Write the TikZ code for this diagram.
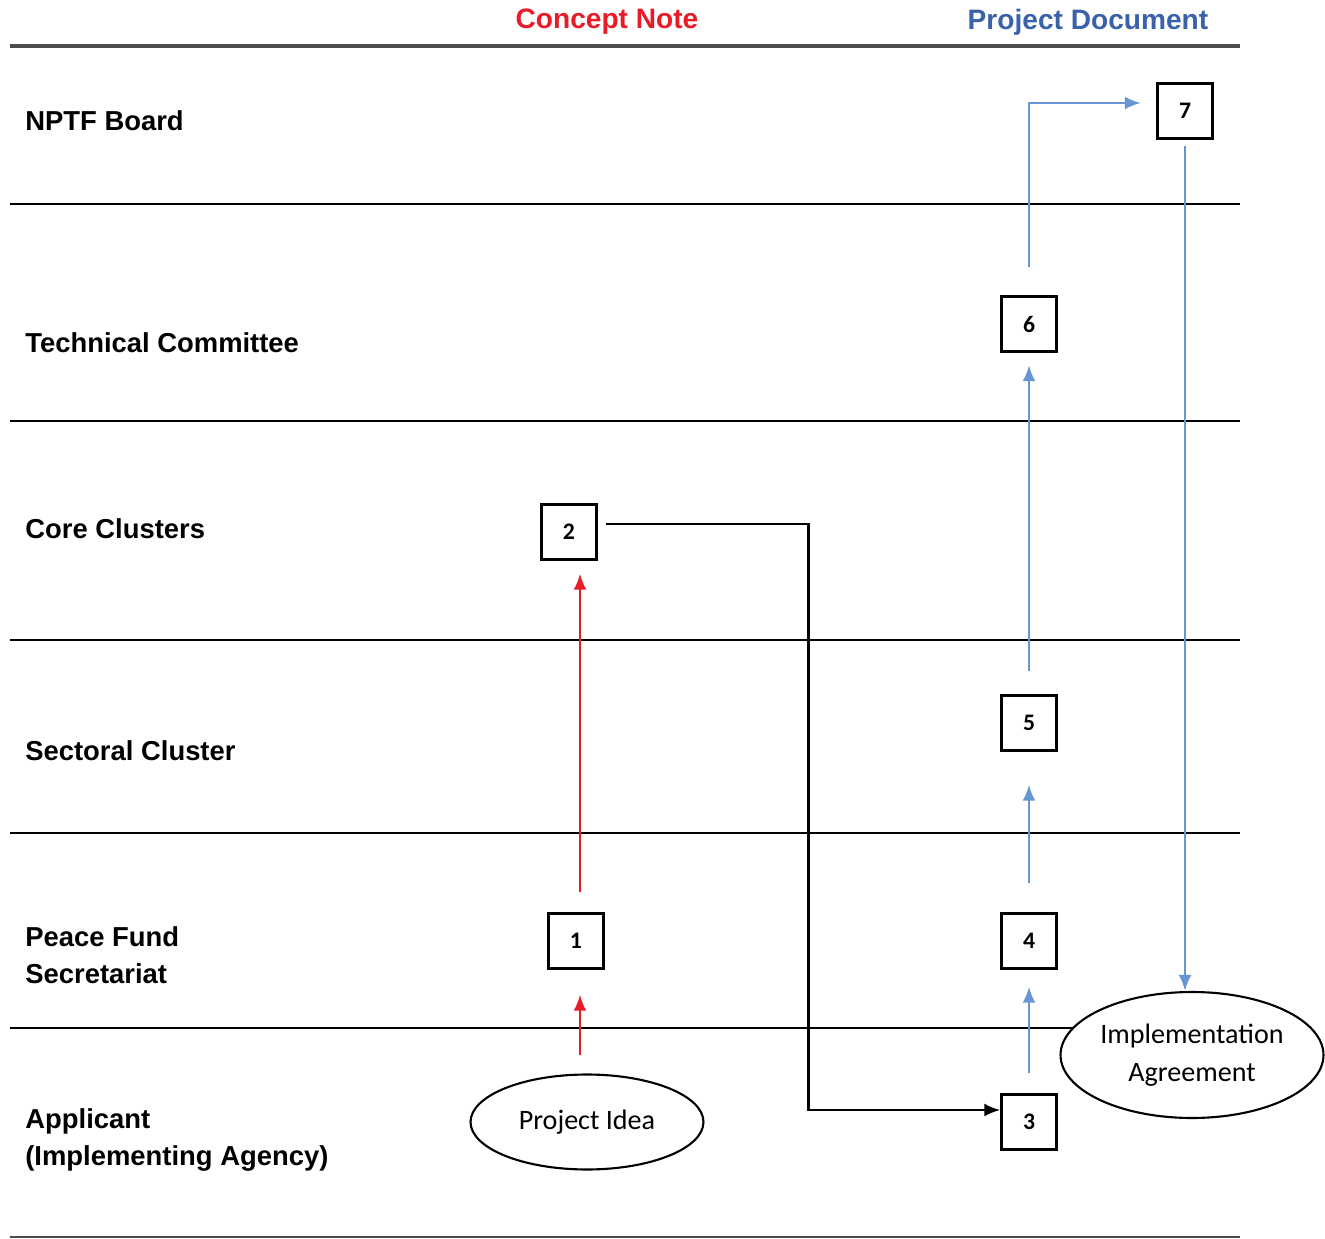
\documentclass[tikz,border=0pt]{standalone}
\usepackage{fontspec}
\setmainfont{Liberation Sans}
\newfontfamily\calfont{Carlito}
\usetikzlibrary{arrows.meta,shapes.geometric}
\definecolor{cnred}{RGB}{232,28,40}
\definecolor{pdblue}{RGB}{58,98,170}
\definecolor{flowblue}{RGB}{104,150,212}
\tikzset{
  lane/.style={line width=1.4pt},
  lanelabel/.style={anchor=west,align=left,inner sep=0pt,
    font=\fontsize{15.6}{21}\selectfont\bfseries},
  header/.style={inner sep=0pt,font=\fontsize{16}{19}\selectfont\bfseries},
  stepbox/.style={draw,line width=1.4pt,minimum size=1.1cm,inner sep=0pt,
    font=\calfont\fontsize{13.5}{15}\selectfont\bfseries},
  oval/.style={draw,ellipse,fill=white,line width=1.2pt,inner sep=0pt,align=center,
    font=\calfont\fontsize{16}{21.5}\selectfont},
  redflow/.style={cnred,line width=1.4pt,-{Latex[length=3.2mm,width=2.6mm]}},
  blueflow/.style={flowblue,line width=1.4pt,-{Latex[length=3.2mm,width=2.6mm]}},
  blackflow/.style={black,line width=1.4pt,-{Latex[length=3.2mm,width=2.6mm]}}
}
\begin{document}
\begin{tikzpicture}[x=0.02cm,y=-0.02cm]
  \useasboundingbox (0,0) rectangle (1325,1239);

  % HEADERS
  \node[header,text=cnred] (cnote) at (607,22) {Concept Note};
  \node[header,text=pdblue] (pdoc) at (1088,22) {Project Document};
  \draw[line width=2.2pt,black!70] (10,46) -- (1240,46);

  % LANES
  \foreach \y in {204,421,640,833,1028} {
    \draw[lane] (10,\y) -- (1240,\y);
  }
  \draw[lane,black!70] (10,1237) -- (1240,1237);

  \node[lanelabel] (board) at (25,121) {NPTF Board};
  \node[lanelabel] (techcom) at (25,343) {Technical Committee};
  \node[lanelabel] (core) at (25,529) {Core Clusters};
  \node[lanelabel] (sector) at (25,751) {Sectoral Cluster};
  \node[lanelabel] (secret) at (25,955) {Peace Fund\\Secretariat};
  \node[lanelabel] (applic) at (25,1140) {Applicant\\(Implementing Agency)};

  % STEPS
  \node[stepbox] (b1) at (576,941) {1};
  \node[stepbox] (b2) at (569,532) {2};
  \node[stepbox] (b3) at (1029,1122) {3};
  \node[stepbox] (b4) at (1029,941) {4};
  \node[stepbox] (b5) at (1029,723) {5};
  \node[stepbox] (b6) at (1029,324) {6};
  \node[stepbox] (b7) at (1185,111) {7};
  \node[oval,minimum width=4.66cm,minimum height=1.9cm] (idea) at (587,1122) {Project Idea};
  \node[oval,minimum width=5.26cm,minimum height=2.52cm] (agree) at (1192,1055) {Implementation\\Agreement};

  % CONCEPT NOTE FLOW
  \draw[redflow,shorten <=.36cm,shorten >=.5cm] ([xshift=.08cm]b1.south |- idea.north) -- ([xshift=.08cm]b1.south);
  \draw[redflow,shorten <=.4cm,shorten >=.26cm] ([xshift=.08cm]b1.north) -- ([xshift=.08cm]b1.north |- b2.south);
  \draw[blackflow,shorten <=.16cm] ([yshift=.16cm]b2.east) -- ++(4.22cm,0) |- ([yshift=.24cm]b3.west);

  % PROJECT DOCUMENT FLOW
  \draw[blueflow,shorten <=.4cm,shorten >=.34cm] (b3) -- (b4);
  \draw[blueflow,shorten <=.58cm,shorten >=.66cm] (b4) -- (b5);
  \draw[blueflow,shorten <=.47cm,shorten >=.25cm] (b5) -- (b6);
  \draw[blueflow,shorten <=.57cm,shorten >=.31cm] (b6.north) |- ([yshift=.16cm]b7.west);
  \draw[blueflow,shorten <=.13cm] (b7.south) -- (b7.south |- agree.north);
\end{tikzpicture}
\end{document}
